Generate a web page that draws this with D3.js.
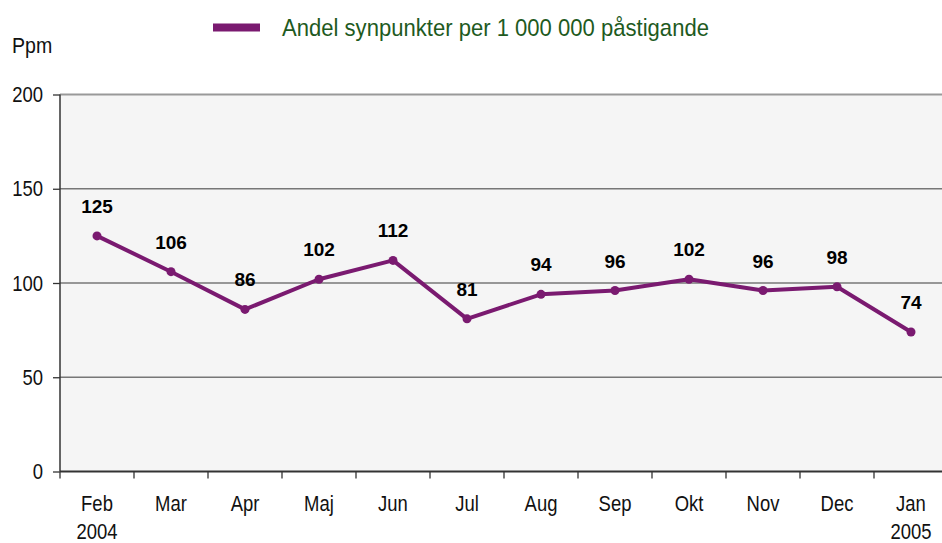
<!DOCTYPE html>
<html>
<head>
<meta charset="utf-8">
<script src="https://cdn.jsdelivr.net/npm/d3@7"></script>
<style>
body { margin: 0; background: #fff; }
</style>
</head>
<body>
<div id="chart"></div>
<script>
var w = 942;
var h = 543;

var months = ["Feb", "Mar", "Apr", "Maj", "Jun", "Jul", "Aug", "Sep", "Okt", "Nov", "Dec", "Jan"];
var years = ["2004", "", "", "", "", "", "", "", "", "", "", "2005"];
var values = [125, 106, 86, 102, 112, 81, 94, 96, 102, 96, 98, 74];
var yTicks = [0, 50, 100, 150, 200];
var seriesName = "Andel synpunkter per 1 000 000 påstigande";

var plotLeft = 60, plotRight = 948, plotTop = 94.5, plotBottom = 471.5;
var sans = "'Liberation Sans', Arial, sans-serif";
// no narrow face installed, so squeeze the regular one
var squeeze = 0.84;

var xScale = d3.scaleBand()
               .domain(months)
               .range([plotLeft, plotRight]);
var yScale = d3.scaleLinear()
               .domain([0, 200])
               .range([plotBottom, plotTop]);

var svg = d3.select("#chart")
            .append("svg")
            .attr("width", w)
            .attr("height", h);

// plot background
svg.append("rect")
   .attr("x", plotLeft)
   .attr("y", plotTop)
   .attr("width", plotRight - plotLeft)
   .attr("height", plotBottom - plotTop)
   .attr("fill", "#f5f5f5");

// gridlines
svg.selectAll("line.grid")
   .data(yTicks.slice(1))
   .enter()
   .append("line")
   .attr("class", "grid")
   .attr("x1", plotLeft)
   .attr("x2", plotRight)
   .attr("y1", function(d) { return yScale(d); })
   .attr("y2", function(d) { return yScale(d); })
   .attr("stroke", function(d) { return d == 200 ? "#999" : "#777"; })
   .attr("stroke-width", function(d) { return d == 200 ? 2 : 1.3; });

// y axis
var yAxis = d3.axisLeft(yScale).tickValues(yTicks).tickSize(7).tickPadding(10);
var gy = svg.append("g")
   .attr("transform", "translate(" + plotLeft + ",0)")
   .call(yAxis);
gy.select(".domain").attr("stroke", "#333").attr("stroke-width", 1.5)
  .attr("d", "M0," + plotTop + "V" + plotBottom);
gy.selectAll(".tick line").attr("stroke", "#333").attr("stroke-width", 1.3);
gy.selectAll(".tick text")
  .attr("font-family", sans)
  .attr("font-size", "22px")
  .attr("fill", "#111")
  .each(function() {
      var t = d3.select(this);
      var x0 = +t.attr("x");
      t.attr("x", 0).attr("transform", "translate(" + x0 + ",0) scale(" + squeeze + ",1)");
  });

// x axis
var xAxis = d3.axisBottom(xScale).tickSize(0).tickPadding(0);
var gx = svg.append("g")
   .attr("transform", "translate(0," + plotBottom + ")")
   .call(xAxis);
gx.select(".domain").attr("stroke", "#333").attr("stroke-width", 1.8)
  .attr("d", "M" + plotLeft + ",0H" + plotRight);
gx.selectAll(".tick line").remove();
gx.selectAll(".tick text")
  .attr("font-family", sans)
  .attr("font-size", "22px")
  .attr("fill", "#111")
  .attr("y", 40)
  .attr("dy", null)
  .attr("transform", "scale(" + squeeze + ",1)");
gx.selectAll(".tick text")
  .append("tspan")
  .attr("x", 0)
  .attr("y", 68)
  .text(function(d, i) { return years[i]; });

// category boundary ticks
svg.selectAll("line.xtick")
   .data(months)
   .enter()
   .append("line")
   .attr("class", "xtick")
   .attr("x1", function(d) { return xScale(d); })
   .attr("x2", function(d) { return xScale(d); })
   .attr("y1", plotBottom)
   .attr("y2", plotBottom + 7)
   .attr("stroke", "#333")
   .attr("stroke-width", 1.3);

// line
var line = d3.line()
             .x(function(d, i) { return xScale(months[i]) + xScale.bandwidth() / 2; })
             .y(function(d) { return yScale(d); });

svg.append("path")
   .datum(values)
   .attr("d", line)
   .attr("fill", "none")
   .attr("stroke", "#7a1a70")
   .attr("stroke-width", 4)
   .attr("stroke-linejoin", "round");

svg.selectAll("circle")
   .data(values)
   .enter()
   .append("circle")
   .attr("cx", function(d, i) { return xScale(months[i]) + xScale.bandwidth() / 2; })
   .attr("cy", function(d) { return yScale(d); })
   .attr("r", 4.5)
   .attr("fill", "#7a1a70");

// value labels
svg.selectAll("text.val")
   .data(values)
   .enter()
   .append("text")
   .attr("class", "val")
   .text(function(d) { return d; })
   .attr("x", function(d, i) { return xScale(months[i]) + xScale.bandwidth() / 2; })
   .attr("y", function(d) { return yScale(d) - 23; })
   .attr("text-anchor", "middle")
   .attr("font-family", sans)
   .attr("font-weight", "bold")
   .attr("font-size", "19px")
   .attr("fill", "#000");

// y unit
svg.append("text")
   .attr("transform", "translate(12,53) scale(0.89,1)")
   .attr("font-family", sans)
   .attr("font-size", "22px")
   .attr("fill", "#111")
   .text("Ppm");

// legend
svg.append("line")
   .attr("x1", 213)
   .attr("x2", 260)
   .attr("y1", 27.5)
   .attr("y2", 27.5)
   .attr("stroke", "#7a1a70")
   .attr("stroke-width", 8);
svg.append("text")
   .attr("transform", "translate(282,36) scale(0.92,1)")
   .attr("font-family", sans)
   .attr("font-size", "24px")
   .attr("fill", "#1e5a1e")
   .text(seriesName);
</script>
</body>
</html>
